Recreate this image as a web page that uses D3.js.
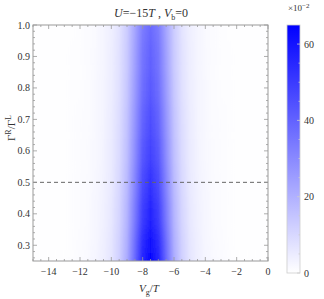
<!DOCTYPE html>
<html>
<head>
<meta charset="utf-8">
<script src="https://cdn.jsdelivr.net/npm/d3@7"></script>
<style>
body { margin: 0; background: #fff; }
text { font-family: "Liberation Serif", "DejaVu Serif", serif; fill: #333; }
</style>
</head>
<body>
<script>
//Data
const vgCols = [-13, -12.5, -12, -11.5, -11, -10.5, -10, -9.5, -9, -8.5, -8, -7.5,
                -7, -6.5, -6, -5.5, -5, -4.5, -4, -3.5, -3, -2.5, -2];
const gammaRows = [1.0, 0.9, 0.8, 0.7, 0.6, 0.5, 0.4, 0.3, 0.25];
//values (x10^-2) per row, one per column
const row100 = [0.2,0.3,0.6,1.0,1.5,2.5,4.2,7.2,12.9,22.8,33.4,38.0,33.4,22.8,12.9,7.2,4.2,2.5,1.5,1.0,0.6,0.3,0.2];
const row090 = [0.2,0.4,0.6,1.0,1.6,2.6,4.4,7.6,13.6,24.0,35.2,40.0,35.2,24.0,13.6,7.6,4.4,2.6,1.6,1.0,0.6,0.4,0.2];
const row080 = [0.2,0.4,0.6,1.1,1.7,2.7,4.6,8.0,14.3,25.2,37.0,42.0,37.0,25.2,14.3,8.0,4.6,2.7,1.7,1.1,0.6,0.4,0.2];
const row070 = [0.2,0.4,0.7,1.1,1.8,2.9,5.0,8.6,15.3,27.0,39.6,45.0,39.6,27.0,15.3,8.6,5.0,2.9,1.8,1.1,0.7,0.4,0.2];
const row060 = [0.2,0.4,0.7,1.2,1.9,3.1,5.3,9.1,16.3,28.8,42.2,48.0,42.2,28.8,16.3,9.1,5.3,3.1,1.9,1.2,0.7,0.4,0.2];
const row050 = [0.3,0.5,0.8,1.3,2.1,3.4,5.7,9.9,17.7,31.2,45.8,52.0,45.8,31.2,17.7,9.9,5.7,3.4,2.1,1.3,0.8,0.5,0.3];
const row040 = [0.3,0.5,0.8,1.4,2.2,3.6,6.2,10.6,19.0,33.6,49.3,56.0,49.3,33.6,19.0,10.6,6.2,3.6,2.2,1.4,0.8,0.5,0.3];
const row030 = [0.3,0.5,0.9,1.5,2.4,4.0,6.7,11.6,20.7,36.6,53.7,61.0,53.7,36.6,20.7,11.6,6.7,4.0,2.4,1.5,0.9,0.5,0.3];
const row025 = [0.3,0.6,1.0,1.6,2.6,4.2,7.0,12.2,21.8,38.4,56.3,64.0,56.3,38.4,21.8,12.2,7.0,4.2,2.6,1.6,1.0,0.6,0.3];
const gridValues = [row100, row090, row080, row070, row060, row050, row040, row030, row025];

const xTicks = [-14, -12, -10, -8, -6, -4, -2, 0];
const yTicks = [0.3, 0.4, 0.5, 0.6, 0.7, 0.8, 0.9, 1.0];
const barTicks = [0, 20, 40, 60];
const dashedAt = 0.5;

//Layout
const width = 324, height = 299;
const plotLeft = 33, plotRight = 268, plotTop = 25, plotBottom = 261;

const svg = d3.select("body").append("svg")
    .attr("width", width)
    .attr("height", height);

const xScale = d3.scaleLinear().domain([-15, 0]).range([plotLeft, plotRight]);
const yScale = d3.scaleLinear().domain([0.25, 1.0]).range([plotBottom, plotTop]);
const color = d3.scaleLinear().domain([0, 65]).range(["#ffffff", "#0000ff"]);

const defs = svg.append("defs");
const plotW = plotRight - plotLeft;

//clip + vertical smoothing for the density rows
defs.append("clipPath").attr("id", "plotClip")
    .append("rect")
    .attr("x", plotLeft).attr("y", plotTop)
    .attr("width", plotW).attr("height", plotBottom - plotTop);

defs.append("filter").attr("id", "vsmooth")
    .attr("filterUnits", "userSpaceOnUse")
    .attr("x", 0).attr("y", 0).attr("width", width).attr("height", height)
    .append("feGaussianBlur")
    .attr("stdDeviation", "0 9");

const heat = svg.append("g").attr("clip-path", "url(#plotClip)")
    .append("g").attr("filter", "url(#vsmooth)");

//Density rows: horizontal gradients, one per row band
gammaRows.forEach((g, i) => {
    const grad = defs.append("linearGradient")
        .attr("id", "row" + i)
        .attr("gradientUnits", "userSpaceOnUse")
        .attr("x1", plotLeft).attr("x2", plotRight)
        .attr("y1", 0).attr("y2", 0);
    grad.selectAll("stop")
        .data(vgCols)
        .join("stop")
        .attr("offset", d => (xScale(d) - plotLeft) / plotW)
        .attr("stop-color", (d, j) => color(gridValues[i][j]));

    const upper = i === 0 ? 1.0 : (g + gammaRows[i - 1]) / 2;
    const lower = i === gammaRows.length - 1 ? 0.25 : (g + gammaRows[i + 1]) / 2;
    //outer rows run past the frame so the smoothing keeps full colour at the edges
    const y0 = yScale(upper) - (i === 0 ? 30 : 0);
    const y1 = yScale(lower) + (i === gammaRows.length - 1 ? 30 : 0);
    heat.append("rect")
        .attr("x", plotLeft)
        .attr("width", plotW)
        .attr("y", y0)
        .attr("height", y1 - y0 + 0.5)
        .attr("fill", "url(#row" + i + ")");
});

//Dashed line
svg.append("line")
    .attr("x1", plotLeft).attr("x2", plotRight)
    .attr("y1", yScale(dashedAt)).attr("y2", yScale(dashedAt))
    .attr("stroke", "#666")
    .attr("stroke-width", 1)
    .attr("stroke-dasharray", "4,3");

//Frame
svg.append("rect")
    .attr("x", plotLeft).attr("y", plotTop)
    .attr("width", plotW).attr("height", plotBottom - plotTop)
    .attr("fill", "none")
    .attr("stroke", "#999")
    .attr("stroke-width", 1);

//Ticks on all sides, pointing inward
const xMinor = d3.range(-15, 0.01, 0.5);
const yMinor = d3.range(0.26, 1.001, 0.02);
const tickG = svg.append("g").attr("stroke", "#999").attr("stroke-width", 0.8);

xMinor.forEach(v => {
    const major = Math.abs(v % 2) < 1e-6;
    const len = major ? 4 : 2;
    tickG.append("line").attr("x1", xScale(v)).attr("x2", xScale(v))
        .attr("y1", plotBottom).attr("y2", plotBottom - len);
    tickG.append("line").attr("x1", xScale(v)).attr("x2", xScale(v))
        .attr("y1", plotTop).attr("y2", plotTop + len);
});
yMinor.forEach(v => {
    const major = Math.abs(v * 10 - Math.round(v * 10)) < 1e-6;
    const len = major ? 4 : 2;
    tickG.append("line").attr("y1", yScale(v)).attr("y2", yScale(v))
        .attr("x1", plotLeft).attr("x2", plotLeft + len);
    tickG.append("line").attr("y1", yScale(v)).attr("y2", yScale(v))
        .attr("x1", plotRight).attr("x2", plotRight - len);
});

//Tick labels
svg.selectAll(".xlab")
    .data(xTicks)
    .join("text")
    .attr("x", d => xScale(d))
    .attr("y", 275)
    .attr("text-anchor", "middle")
    .style("font-size", "10px")
    .text(d => d === 0 ? "0" : "\u2212" + Math.abs(d));

svg.selectAll(".ylab")
    .data(yTicks)
    .join("text")
    .attr("x", plotLeft - 3)
    .attr("y", d => yScale(d) + 3.5)
    .attr("text-anchor", "end")
    .style("font-size", "10px")
    .text(d => d.toFixed(1));

//Title
const title = svg.append("text")
    .attr("x", 151).attr("y", 17)
    .attr("text-anchor", "middle")
    .style("font-size", "12px");
title.append("tspan").style("font-style", "italic").text("U");
title.append("tspan").text("=\u221215");
title.append("tspan").style("font-style", "italic").text("T");
title.append("tspan").text(" ,  ");
title.append("tspan").style("font-style", "italic").text("V");
title.append("tspan").attr("dy", 3).style("font-size", "8px").text("b");
title.append("tspan").attr("dy", -3).text("=0");

//Axis labels
const xl = svg.append("text")
    .attr("x", 149).attr("y", 292)
    .attr("text-anchor", "middle")
    .style("font-size", "11px");
xl.append("tspan").style("font-style", "italic").text("V");
xl.append("tspan").attr("dy", 2.5).style("font-size", "8px").text("g");
xl.append("tspan").attr("dy", -2.5).text("/");
xl.append("tspan").style("font-style", "italic").text("T");

const yl = svg.append("text")
    .attr("transform", "translate(15,128) rotate(-90)")
    .attr("text-anchor", "middle")
    .style("font-size", "11px");
yl.append("tspan").text("\u0393");
yl.append("tspan").attr("dy", -4).style("font-size", "8px").text("R");
yl.append("tspan").attr("dy", 4).text("/\u0393");
yl.append("tspan").attr("dy", -4).style("font-size", "8px").text("L");

//Colorbar
const barX = 287, barW = 13, barTop = 25, barBottom = 273;
const barScale = d3.scaleLinear().domain([0, 65]).range([barBottom, barTop]);
const barGrad = defs.append("linearGradient")
    .attr("id", "bar")
    .attr("x1", 0).attr("x2", 0).attr("y1", 1).attr("y2", 0);
barGrad.append("stop").attr("offset", 0).attr("stop-color", color(0));
barGrad.append("stop").attr("offset", 1).attr("stop-color", color(65));

svg.append("rect")
    .attr("x", barX).attr("y", barTop)
    .attr("width", barW).attr("height", barBottom - barTop)
    .attr("fill", "url(#bar)")
    .attr("stroke", "#ccc")
    .attr("stroke-width", 0.8);

svg.selectAll(".btick")
    .data(d3.range(0, 65, 5))
    .join("line")
    .attr("x1", barX + barW).attr("x2", d => barX + barW - (d % 20 === 0 ? 3 : 1.5))
    .attr("y1", d => barScale(d)).attr("y2", d => barScale(d))
    .attr("stroke", "#ccc")
    .attr("stroke-width", 0.8);

svg.selectAll(".blab")
    .data(barTicks)
    .join("text")
    .attr("x", barX + barW + 4)
    .attr("y", d => barScale(d) + 3.5)
    .style("font-size", "10px")
    .text(d => d);

const mult = svg.append("text")
    .attr("x", 288).attr("y", 11)
    .style("font-size", "9px");
mult.append("tspan").text("\u00d710");
mult.append("tspan").attr("dy", -3).style("font-size", "7px").text("\u22122");
</script>
</body>
</html>
